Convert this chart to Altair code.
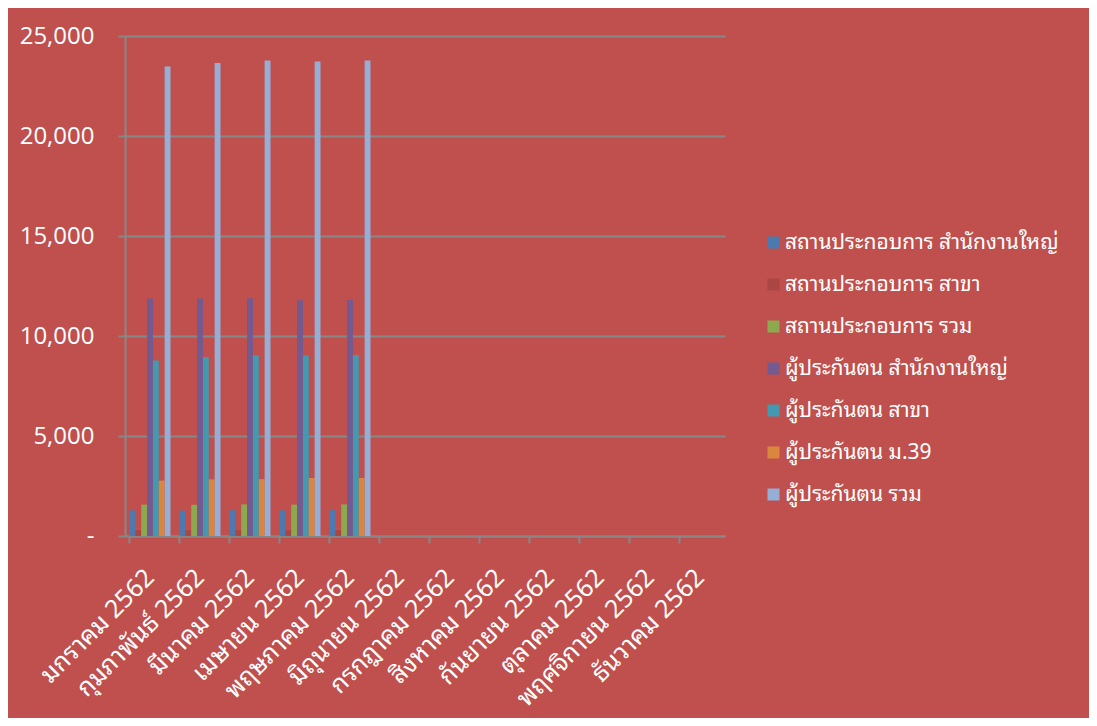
import altair as alt
import pandas as pd

months = ["มกราคม 2562", "กุมภาพันธ์ 2562", "มีนาคม 2562", "เมษายน 2562",
          "พฤษภาคม 2562", "มิถุนายน 2562", "กรกฎาคม 2562", "สิงหาคม 2562",
          "กันยายน 2562", "ตุลาคม 2562", "พฤศจิกายน 2562", "ธันวาคม 2562"]

series = ["สถานประกอบการ สำนักงานใหญ่", "สถานประกอบการ สาขา", "สถานประกอบการ รวม",
          "ผู้ประกันตน สำนักงานใหญ่", "ผู้ประกันตน สาขา", "ผู้ประกันตน ม.39", "ผู้ประกันตน รวม"]

colors = ["#4A7AB0", "#AA4744", "#8EA84F", "#735A91", "#4399AF", "#DB863F", "#95AED6"]

est_hq = [1280, 1270, 1290, 1280, 1290]
est_branch = [290, 290, 290, 290, 290]
est_total = [1570, 1560, 1580, 1570, 1580]
ins_hq = [11880, 11870, 11890, 11790, 11800]
ins_branch = [8780, 8950, 9030, 9030, 9050]
ins_m39 = [2770, 2830, 2840, 2900, 2900]
ins_total = [23480, 23650, 23780, 23720, 23780]

values = [est_hq, est_branch, est_total, ins_hq, ins_branch, ins_m39, ins_total]

rows = []
for s, vals in zip(series, values):
    for m, v in zip(months, vals):
        rows.append({"month": m, "series": s, "value": v})
df = pd.DataFrame(rows)

GRID = "#878787"
FONT_NUM = "Open Sans"
FONT_TH = "Noto Sans Thai Looped, Waree, Loma, Garuda, Tahoma, Noto Sans Thai, Open Sans, sans-serif"

bars = alt.Chart(df).mark_bar(strokeWidth=0).encode(
    x=alt.X("month:N", sort=months,
            scale=alt.Scale(domain=months, paddingInner=0.18, paddingOuter=0.09),
            axis=alt.Axis(title=None, labelAngle=-45, labelAlign="right",
                          labelBaseline="middle", labelFontSize=25, labelFont=FONT_TH,
                          labelColor="white", labelPadding=30, labelLimit=0,
                          tickColor=GRID, tickSize=7, tickWidth=2, bandPosition=0,
                          domainColor=GRID, domainWidth=2, grid=False)),
    xOffset=alt.XOffset("series:N", sort=series,
                        scale=alt.Scale(domain=series, paddingInner=0, paddingOuter=0)),
    y=alt.Y("value:Q",
            scale=alt.Scale(domain=[0, 25000], nice=False),
            axis=alt.Axis(title=None, values=[0, 5000, 10000, 15000, 20000, 25000],
                          labelExpr="datum.value == 0 ? '-' : format(datum.value, ',')",
                          labelFontSize=24, labelFont=FONT_NUM, labelColor="white",
                          labelPadding=24, tickColor=GRID, tickSize=7, tickWidth=2,
                          domainColor=GRID, domainWidth=2,
                          grid=True, gridColor=GRID, gridWidth=2)),
    color=alt.Color("series:N", sort=series,
                    scale=alt.Scale(domain=series, range=colors),
                    legend=alt.Legend(title=None, orient="none", legendX=638, legendY=196,
                                      symbolType="square", symbolSize=144,
                                      symbolStrokeWidth=0, labelFontSize=21,
                                      labelFont=FONT_TH, labelColor="white",
                                      labelLimit=0, rowPadding=20, labelOffset=1)),
)

chart = bars.properties(
    width=600, height=500,
    background="#C0504D",
    padding={"left": 117, "top": 28, "right": 364, "bottom": 182},
    autosize=alt.AutoSizeParams(type="none"),
).configure_view(stroke=None)

chart.save("out.html", embed_options={"renderer": "svg", "actions": False})
